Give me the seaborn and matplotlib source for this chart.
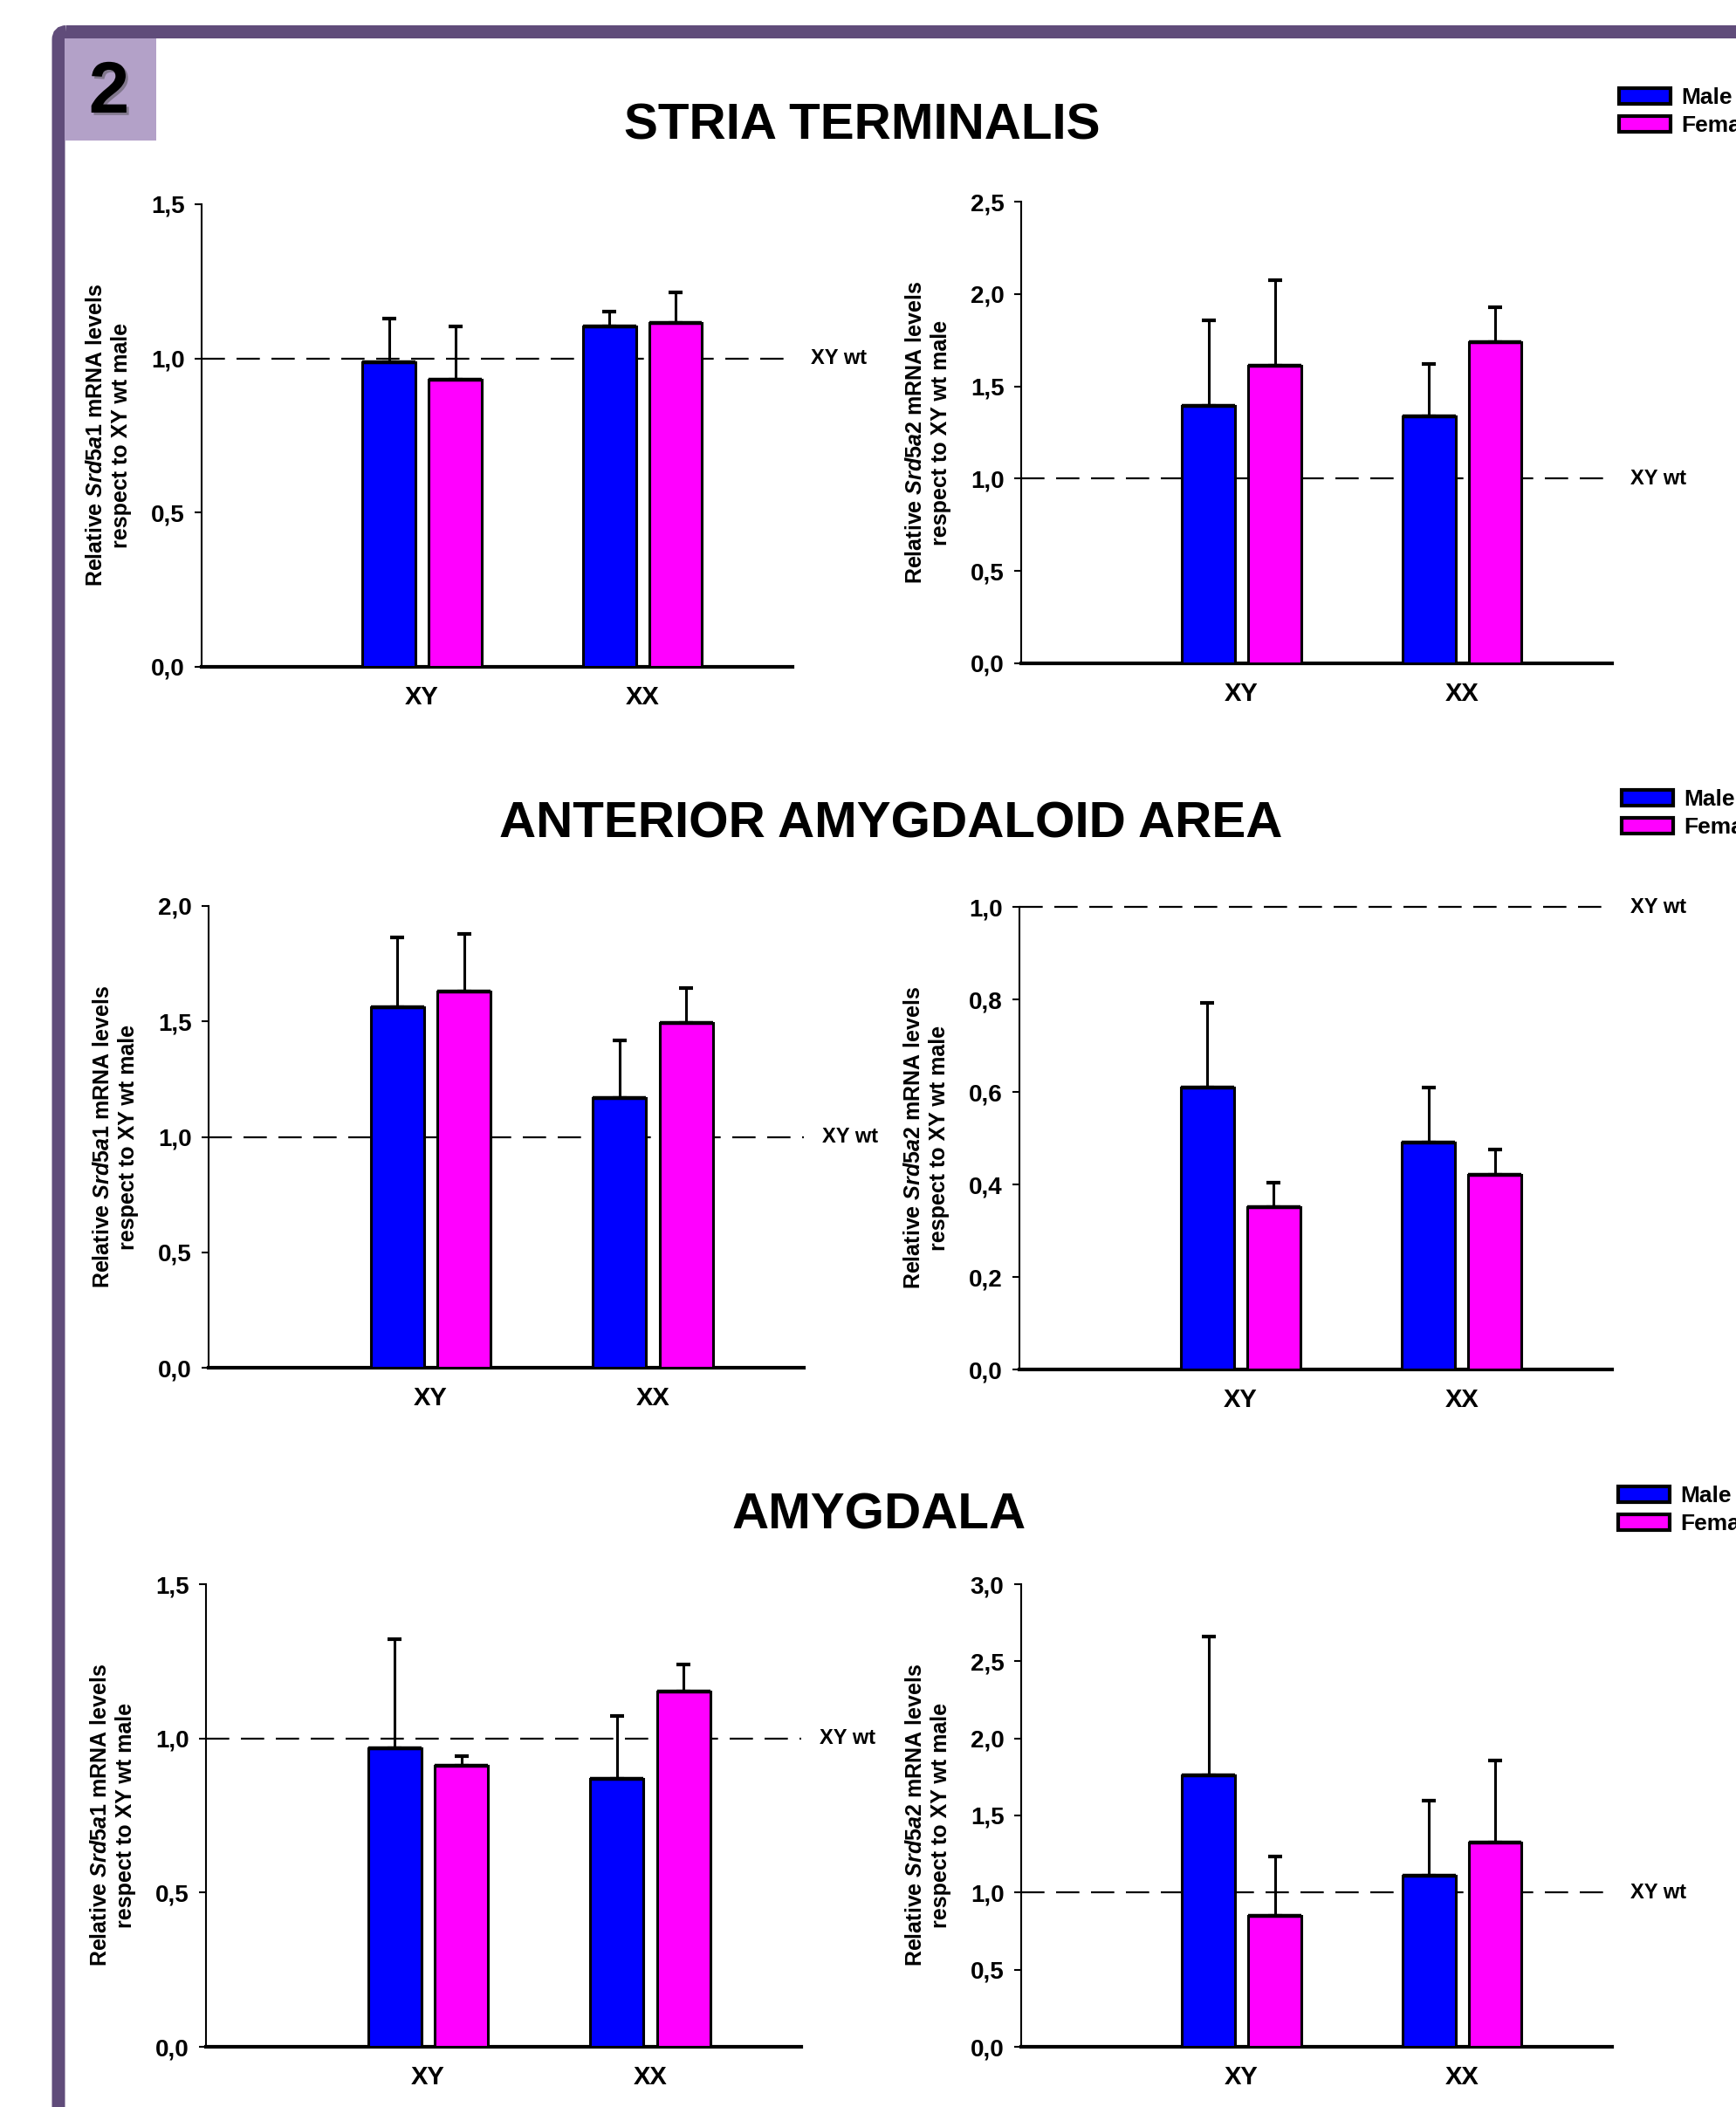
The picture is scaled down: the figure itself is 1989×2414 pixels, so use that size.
import numpy as np
import pandas as pd
import matplotlib
matplotlib.use("Agg")
import matplotlib.pyplot as plt
import seaborn as sns
from matplotlib.patches import FancyBboxPatch, Rectangle
from matplotlib.ticker import FuncFormatter, FixedLocator
import matplotlib.patheffects as pe

# ---------------- data ----------------
genotypes = ["XY", "XX"]
sexes = ["Male", "Female"]

section_titles = ["STRIA TERMINALIS", "ANTERIOR AMYGDALOID AREA", "AMYGDALA"]

# Stria terminalis
st_a1_male = [0.988, 1.105]
st_a1_male_err = [0.142, 0.047]
st_a1_female = [0.932, 1.114]
st_a1_female_err = [0.171, 0.100]

st_a2_male = [1.392, 1.336]
st_a2_male_err = [0.465, 0.283]
st_a2_female = [1.610, 1.738]
st_a2_female_err = [0.465, 0.192]

# Anterior amygdaloid area
aaa_a1_male = [1.562, 1.170]
aaa_a1_male_err = [0.301, 0.249]
aaa_a1_female = [1.630, 1.493]
aaa_a1_female_err = [0.249, 0.152]

aaa_a2_male = [0.609, 0.491]
aaa_a2_male_err = [0.184, 0.118]
aaa_a2_female = [0.351, 0.420]
aaa_a2_female_err = [0.053, 0.056]

# Amygdala
amy_a1_male = [0.967, 0.870]
amy_a1_male_err = [0.354, 0.203]
amy_a1_female = [0.910, 1.152]
amy_a1_female_err = [0.033, 0.088]

amy_a2_male = [1.762, 1.110]
amy_a2_male_err = [0.897, 0.487]
amy_a2_female = [0.849, 1.325]
amy_a2_female_err = [0.387, 0.533]

yticks_st_a1 = [0.0, 0.5, 1.0, 1.5]
yticks_st_a2 = [0.0, 0.5, 1.0, 1.5, 2.0, 2.5]
yticks_aaa_a1 = [0.0, 0.5, 1.0, 1.5, 2.0]
yticks_aaa_a2 = [0.0, 0.2, 0.4, 0.6, 0.8, 1.0]
yticks_amy_a1 = [0.0, 0.5, 1.0, 1.5]
yticks_amy_a2 = [0.0, 0.5, 1.0, 1.5, 2.0, 2.5, 3.0]

reference_level = 1.0
reference_label = "XY wt"

# ---------------- style ----------------
sns.set_theme(style="ticks")
plt.rcParams["font.family"] = ["Liberation Sans", "DejaVu Sans"]
plt.rcParams["font.weight"] = "bold"
plt.rcParams["text.color"] = "black"
plt.rcParams["axes.labelcolor"] = "black"
plt.rcParams["xtick.color"] = "black"
plt.rcParams["ytick.color"] = "black"
plt.rcParams["mathtext.fontset"] = "custom"
plt.rcParams["mathtext.it"] = "Liberation Sans:italic:bold"
plt.rcParams["mathtext.rm"] = "Liberation Sans:bold"
plt.rcParams["mathtext.bf"] = "Liberation Sans:bold"

palette = {"Male": "#0000FF", "Female": "#FF00FF"}
frame_color = "#604C7A"
box_color = "#B3A1C8"

W, H = 1989, 2414
fig = plt.figure(figsize=(W / 100, H / 100), dpi=100)

# background overlay in pixel coordinates
bg = fig.add_axes([0, 0, 1, 1], zorder=0)
bg.set_xlim(0, W)
bg.set_ylim(H, 0)
bg.axis("off")
bg.add_patch(FancyBboxPatch((67, 36.5), 3000, 3000,
                            boxstyle="round,pad=0,rounding_size=9",
                            lw=15 * 0.72, edgecolor=frame_color, facecolor="none"))
bg.add_patch(Rectangle((74, 44), 105, 117, facecolor=box_color, edgecolor="none"))
bg.text(125, 107, "2", fontsize=60, fontweight="bold", ha="center", va="center",
        color="black",
        path_effects=[pe.withSimplePatchShadow(offset=(2, -2), shadow_rgbFace="#444444", alpha=0.45)])

title_pos = [(988, 145), (1021, 944), (1007, 1737)]
for t, (tx, ty) in zip(section_titles, title_pos):
    bg.text(tx, ty, t, fontsize=42, fontweight="bold", ha="center", va="center",
            color="black")

# panel boxes in pixels: (left, top, right, bottom)
boxes = [
    (231, 234, 908, 764),
    (1170, 231, 1847, 760),
    (239, 1038, 921, 1567),
    (1168, 1039, 1847, 1569),
    (236, 1815, 918, 2345),
    (1170, 1815, 1847, 2345),
]

panels = [
    (st_a1_male, st_a1_male_err, st_a1_female, st_a1_female_err, yticks_st_a1, "Srd5a1"),
    (st_a2_male, st_a2_male_err, st_a2_female, st_a2_female_err, yticks_st_a2, "Srd5a2"),
    (aaa_a1_male, aaa_a1_male_err, aaa_a1_female, aaa_a1_female_err, yticks_aaa_a1, "Srd5a1"),
    (aaa_a2_male, aaa_a2_male_err, aaa_a2_female, aaa_a2_female_err, yticks_aaa_a2, "Srd5a2"),
    (amy_a1_male, amy_a1_male_err, amy_a1_female, amy_a1_female_err, yticks_amy_a1, "Srd5a1"),
    (amy_a2_male, amy_a2_male_err, amy_a2_female, amy_a2_female_err, yticks_amy_a2, "Srd5a2"),
]

legend_anchor = [(1855, 100), (1858, 904), (1854, 1702)]

fmt = FuncFormatter(lambda v, p: f"{v:.1f}".replace(".", ","))

for i, ((m, me, f, fe, yt, gene), (l, t, r, b)) in enumerate(zip(panels, boxes)):
    ax = fig.add_axes([l / W, 1 - b / H, (r - l) / W, (b - t) / H], zorder=2)
    ax.set_facecolor("none")
    df = pd.DataFrame({
        "genotype": genotypes * 2,
        "sex": ["Male"] * 2 + ["Female"] * 2,
        "value": list(m) + list(f),
    })
    sns.barplot(data=df, x="genotype", y="value", hue="sex", order=genotypes,
                hue_order=sexes, palette=palette, width=0.6, gap=0.2,
                errorbar=None, edgecolor="black", linewidth=2.2, saturation=1,
                ax=ax, legend=(i % 2 == 1), zorder=3)
    errs = {"Male": me, "Female": fe}
    for cont, sex in zip(ax.containers, sexes):
        xs = [bar.get_x() + bar.get_width() / 2 for bar in cont]
        hs = [bar.get_height() for bar in cont]
        e = errs[sex]
        ax.errorbar(xs, hs, yerr=[np.zeros(len(e)), e], fmt="none", ecolor="black",
                    elinewidth=2.2, capsize=6, capthick=3, zorder=2)
        # thicker top edge of each bar
        for x0, h0, bar in zip(xs, hs, cont):
            w0 = bar.get_width()
            ax.plot([x0 - w0 / 2, x0 + w0 / 2], [h0, h0], color="black", lw=3.2,
                    solid_capstyle="butt", zorder=4)
    ax.set_xlim(-1.0, 1.68)
    ax.set_ylim(yt[0], yt[-1])
    ax.yaxis.set_major_locator(FixedLocator(yt))
    ax.yaxis.set_major_formatter(fmt)
    ax.axhline(reference_level, color="black", lw=1.6, dashes=(12, 6), zorder=1,
               clip_on=False)
    ax.text(1.0 + 21 / (r - l), reference_level, reference_label,
            transform=ax.get_yaxis_transform(), ha="left", va="center",
            fontsize=17, fontweight="bold", clip_on=False,
            family=["Liberation Sans Narrow", "Liberation Sans", "DejaVu Sans"])
    sns.despine(ax=ax)
    ax.spines["left"].set_linewidth(1.5)
    ax.spines["bottom"].set_linewidth(3)
    ax.spines["left"].set_color("black")
    ax.spines["bottom"].set_color("black")
    ax.tick_params(axis="y", direction="out", length=6, width=1.5, pad=8,
                   labelsize=20, colors="black")
    ax.tick_params(axis="x", length=0, pad=15, labelsize=21, colors="black")
    for lab in ax.get_xticklabels() + ax.get_yticklabels():
        lab.set_fontweight("bold")
    ax.set_xlabel("")
    ax.set_ylabel(f"Relative $\\mathit{{{gene}}}$ mRNA levels\nrespect to XY wt male",
                  fontsize=18, fontweight="bold", linespacing=1.25)
    ax.yaxis.set_label_coords(-80 / (r - l), 0.5)
    if i % 2 == 1:
        lx, ly = legend_anchor[i // 2]
        sns.move_legend(ax, loc="upper left", bbox_to_anchor=(lx / W, 1 - ly / H),
                        bbox_transform=fig.transFigure, frameon=False, title=None,
                        fontsize=19, handlelength=2.24, handleheight=0.68,
                        handletextpad=0.45, labelspacing=0.32, borderpad=0,
                        borderaxespad=0)
        leg = ax.get_legend()
        for txt in leg.get_texts():
            txt.set_fontweight("bold")
        for hnd in leg.legend_handles:
            hnd.set_edgecolor("black")
            hnd.set_linewidth(3)

fig.savefig("out.png", dpi=100)
